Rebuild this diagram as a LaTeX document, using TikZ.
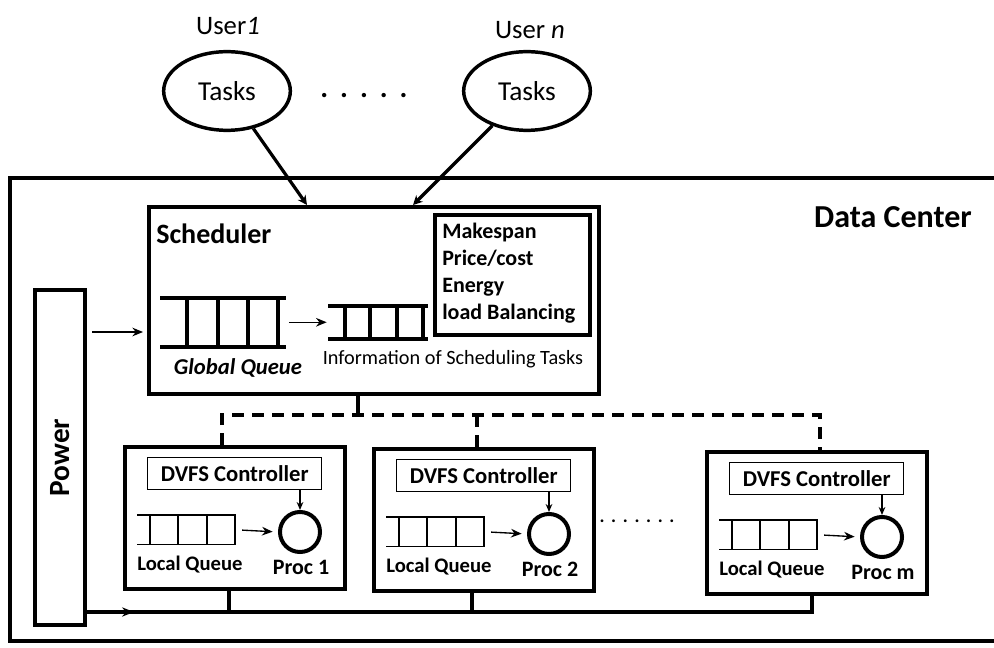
\documentclass[tikz,border=0pt]{standalone}
\usepackage{fontspec}
\setmainfont{Carlito}
\usetikzlibrary{arrows.meta,shapes.geometric,calc}
\begin{document}
\begin{tikzpicture}[x=0.75pt,y=-0.75pt,
  thickbox/.style={draw, line width=3pt, rectangle, inner sep=0pt, anchor=north west},
  thinbox/.style={draw, line width=1.1pt, rectangle, inner sep=0pt, anchor=north west},
  ghost/.style={rectangle, inner sep=0pt, anchor=north west},
  userell/.style={ellipse, draw, line width=2.6pt, minimum width=95pt, minimum height=59pt, font=\fontsize{20.5}{24}\selectfont},
  procc/.style={circle, draw, line width=3pt, minimum size=30pt, inner sep=0pt},
  bigarr/.style={line width=2.4pt, -{Stealth[length=7pt,width=7pt]}},
  tarr/.style={line width=1pt, -{Stealth[length=8pt,width=6.5pt]}},
  sarr/.style={line width=1pt, -{Stealth[length=6pt,width=5pt]}},
  dsh/.style={line width=3pt, dash pattern=on 9pt off 6pt},
  bus/.style={line width=2.4pt},
  thickq/.style={line width=3pt, line cap=rect},
  thinq/.style={line width=1.1pt},
  lbl/.style={font=\fontsize{20}{24}\selectfont},
]
\useasboundingbox (0,0) rectangle (994,648);

% Data center frame
\draw[line width=3pt] (994,178) -- (10,178) -- (10,641) -- (994,641);
\node[font=\fontsize{24}{28}\selectfont\bfseries] (dctitle) at (893,217) {Data Center};

% Users
\node[lbl] (user1) at (228,26) {User\textit{1}};
\node[lbl] (usern) at (530,30) {User \textit{n}};
\node[userell] (u1) at (227,91) {Tasks};
\node[userell] (un) at (527,91) {Tasks};
\node[font=\fontsize{22}{24}\selectfont\bfseries] (udots) at (364,96) {.\hspace{9pt}.\hspace{9pt}.\hspace{9pt}.\hspace{9pt}.};

% Scheduler
\node[thickbox, minimum width=337.5pt, minimum height=140.25pt] (sched) at (147,205) {};
\node[font=\fontsize{21}{24}\selectfont\bfseries, anchor=west, inner sep=0pt] (schedlbl) at (156,234) {Scheduler};
\node[thickbox, minimum width=116.25pt, minimum height=90pt] (metrics) at (433,213) {};
\node[font=\fontsize{16.5}{20.2}\selectfont\bfseries, align=left, anchor=west, inner sep=0pt] (metricstxt) at (442,273)
  {Makespan\\Price/cost\\Energy\\load Balancing};

\coordinate (s1) at (307,205);
\coordinate (s2) at (413,205);
\draw[bigarr] (u1) -- (s1);
\draw[bigarr] (un) -- (s2);

% Global queue
\node[ghost, minimum width=90.75pt, minimum height=36pt] (gq) at (162,298) {};
\draw[thickq] (gq.north west) -- (gq.north east) (gq.south west) -- (gq.south east);
\foreach \d in {25,56,86,116}
  \draw[thickq] ($(gq.north west)+(\d,0)$) -- ($(gq.south west)+(\d,0)$);
\node[font=\fontsize{17}{20}\selectfont\bfseries\itshape] (gqlbl) at (238,368) {Global Queue};

% Info queue
\node[ghost, minimum width=71.25pt, minimum height=24pt] (iq) at (330,306) {};
\draw[thickq] (iq.north west) -- (iq.north east) (iq.south west) -- (iq.south east);
\foreach \d in {15,40,67,93}
  \draw[thickq] ($(iq.north west)+(\d,0)$) -- ($(iq.south west)+(\d,0)$);
\node[font=\fontsize{15.2}{17}\selectfont] (iqlbl) at (453,359) {Information of Scheduling Tasks};
\draw[tarr, shorten <=4pt, shorten >=2.5pt] (gq.east) -- (iq.west);

% Power
\node[thickbox, minimum width=37.5pt, minimum height=251.25pt] (power) at (33,288) {};
\node[rotate=90, font=\fontsize{22}{26}\selectfont\bfseries] (powerlbl) at (power.center) {Power};
\coordinate (pw1) at (88,332);
\draw[tarr, shorten <=4pt, shorten >=3pt] (power.east |- pw1) -- (sched.west |- pw1);

% Processor boxes
\foreach \i/\dx/\dy/\lab in {1/0/0/1, 2/249/2/2, 3/582/5/m}{
  \begin{scope}[shift={(\dx,\dy)}]
    \node[thickbox, minimum width=165pt, minimum height=106.5pt] (p\i) at (123,445) {};
    \node[thinbox, minimum width=130.5pt, minimum height=24pt, font=\fontsize{17}{20}\selectfont\bfseries] (dvfs\i) at (147,457) {DVFS Controller};
    \node[ghost, minimum width=73.5pt, minimum height=21.75pt] (lq\i) at (137,515) {};
    \draw[thinq] (lq\i.north west) -- (lq\i.north east) (lq\i.south west) -- (lq\i.south east);
    \foreach \d in {13,41,70,98}
      \draw[thinq] ($(lq\i.north west)+(\d,0)$) -- ($(lq\i.south west)+(\d,0)$);
    \node[procc] (proc\i) at (300,532) {};
    \node[font=\fontsize{15.5}{18}\selectfont\bfseries] (lqlbl\i) at (190,565) {Local Queue};
    \node[font=\fontsize{16.5}{19}\selectfont\bfseries] (proclbl\i) at (301,567) {Proc \lab};
    \draw[tarr, shorten <=5pt, shorten >=4pt] (lq\i.east) -- (proc\i.west);
    \draw[sarr] (dvfs\i.south -| proc\i) -- (proc\i.north);
  \end{scope}
}

% dots between box 2 and 3
\node[font=\fontsize{14}{16}\selectfont\bfseries] (pdots) at (637,521) {.\hspace{5pt}.\hspace{5pt}.\hspace{5pt}.\hspace{5pt}.\hspace{5pt}.\hspace{5pt}.};

% Scheduler to processors (dashed)
\coordinate (dj) at (358,415);
\coordinate (d1) at (222,415);
\coordinate (d2) at (477,415);
\coordinate (d3) at (820,415);
\draw[line width=3pt] (sched.south -| dj) -- (dj);
\draw[dsh] (p1.north -| d1) -- (d1) -- (d3) -- (p3.north -| d3);
\draw[dsh] (d2) -- (p2.north -| d2);

% Power bus
\coordinate (busend) at (812,612);
\coordinate (busarr) at (134,612);
\coordinate (b1) at (229,612);
\coordinate (b2) at (472,612);
\draw[bus] (power.east |- busend) -- (busend) -- (busend |- p3.south);
\draw[bus] (b1) -- (b1 |- p1.south);
\draw[bus] (b2) -- (b2 |- p2.south);
\draw[line width=1pt, -{Stealth[length=9pt,width=7pt]}] (power.east |- busarr) -- (busarr);
\end{tikzpicture}
\end{document}
